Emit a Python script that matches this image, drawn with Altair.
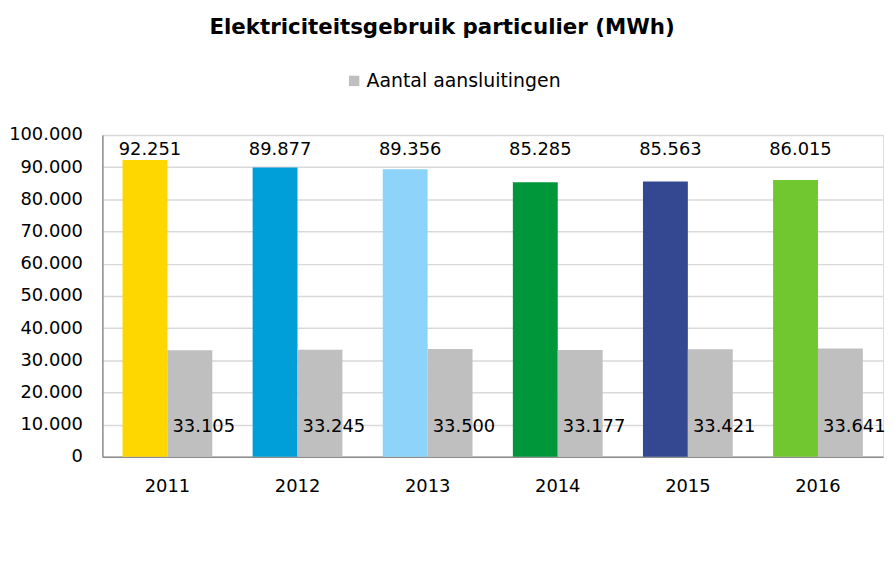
import altair as alt
import pandas as pd

years = ["2011", "2012", "2013", "2014", "2015", "2016"]
verbruik = [92251, 89877, 89356, 85285, 85563, 86015]
aansluitingen = [33105, 33245, 33500, 33177, 33421, 33641]
bar_colors = ["#FFD700", "#009FDA", "#8DD3FA", "#00963A", "#344891", "#71C72F"]
y_ticks = [0, 10000, 20000, 30000, 40000, 50000, 60000, 70000, 80000, 90000, 100000]

def nl(v):
    return f"{v:,}".replace(",", ".")

df_v = pd.DataFrame({
    "jaar": years, "waarde": verbruik, "reeks": "verbruik",
    "kleur": bar_colors, "label": [nl(v) for v in verbruik],
})
df_a = pd.DataFrame({
    "jaar": years, "waarde": aansluitingen, "reeks": "aansluitingen",
    "naam": "Aantal aansluitingen", "label": [nl(v) for v in aansluitingen],
})

FONT = "DejaVu Sans"
offset_dom = ["verbruik", "aansluitingen"]

x_axis = alt.Axis(labelAngle=0, labelFont=FONT, labelFontSize=18,
                  labelColor="#000000", labelPadding=21, ticks=False,
                  domainColor="#8C8C8C", domainWidth=1.5)
x_scale = alt.Scale(paddingInner=0.31, paddingOuter=0.155)
y_axis = alt.Axis(values=y_ticks, labelFont=FONT, labelFontSize=18,
                  labelColor="#000000", labelPadding=20, ticks=False,
                  labelOverlap=False, tickCount=11,
                  domainColor="#8C8C8C", domainWidth=1.5,
                  gridColor="#D9D9D9", gridWidth=1.5,
                  labelExpr="replace(format(datum.value, ','), ',', '.')")
y_scale = alt.Scale(domain=[0, 100000], nice=False)

x_enc = alt.X("jaar:N", sort=years, title=None, scale=x_scale, axis=x_axis)
y_enc = alt.Y("waarde:Q", title=None, scale=y_scale, axis=y_axis)
xoff = alt.XOffset("reeks:N", scale=alt.Scale(domain=offset_dom, paddingInner=0, paddingOuter=0))

bars_v = alt.Chart(df_v).mark_bar().encode(
    x=x_enc, y=y_enc, xOffset=xoff,
    fill=alt.Fill("kleur:N", scale=None),
)
bars_a = alt.Chart(df_a).mark_bar().encode(
    x=x_enc, y=y_enc, xOffset=xoff,
    color=alt.Color("naam:N", title=None,
                    scale=alt.Scale(domain=["Aantal aansluitingen"], range=["#BFBFBF"]),
                    legend=alt.Legend(orient="none", legendX=244, legendY=-64,
                                      symbolType="square", symbolSize=110,
                                      symbolStrokeWidth=0, labelFont=FONT,
                                      labelFontSize=19, labelColor="#000000",
                                      labelOffset=3, labelLimit=400)),
)
text_v = alt.Chart(df_v).mark_text(font=FONT, fontSize=18, color="#000000",
                                   baseline="middle", dx=5).encode(
    x=x_enc, xOffset=xoff,
    y=alt.YDatum(95300, type="quantitative", scale=y_scale, axis=y_axis, title=None),
    text="label:N",
)
text_a = alt.Chart(df_a).mark_text(font=FONT, fontSize=18, color="#000000",
                                   baseline="middle", dx=14).encode(
    x=x_enc, xOffset=xoff,
    y=alt.YDatum(9300, type="quantitative", scale=y_scale, axis=y_axis, title=None),
    text="label:N",
)

chart = alt.layer(bars_v, bars_a, text_v, text_a).properties(
    width=786, height=324,
    autosize=alt.AutoSizeParams(type="none"),
    padding={"left": 95, "top": 126, "right": 4, "bottom": 100},
    title=alt.TitleParams("Elektriciteitsgebruik particulier (MWh)", font=FONT,
                          fontSize=21.5, fontWeight="bold", color="#000000",
                          anchor="middle", dx=-51, offset=33),
).configure_view(stroke="#D9D9D9", strokeWidth=1.5).configure(background="#FFFFFF")

chart.save("out.html", embed_options={"renderer": "svg", "actions": False})
